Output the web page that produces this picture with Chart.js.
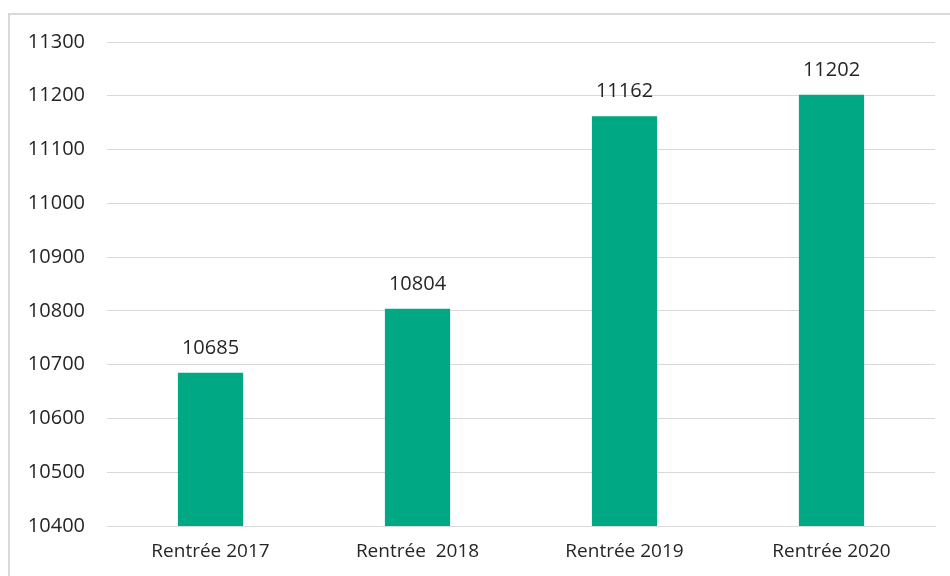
<!DOCTYPE html>
<html>
<head>
<meta charset="utf-8">
<script src="https://cdn.jsdelivr.net/npm/chart.js@4/dist/chart.umd.min.js"></script>
<style>
  html, body { margin: 0; padding: 0; background: #fff; }
  #wrap { position: relative; width: 950px; height: 576px; overflow: hidden; }
  #frame { position: absolute; left: 8px; top: 13px; width: 1000px; height: 700px; border-left: 2px solid #d9d9d9; border-top: 2px solid #d9d9d9; box-sizing: border-box; }
  canvas { position: absolute; left: 0; top: 0; }
</style>
</head>
<body>
<div id="wrap">
  <div id="frame"></div>
  <canvas id="c" width="950" height="576"></canvas>
</div>
<script>
const categories = ["Rentrée 2017", "Rentrée  2018", "Rentrée 2019", "Rentrée 2020"];
const values = [10685, 10804, 11162, 11202];
const yTicks = [10400, 10500, 10600, 10700, 10800, 10900, 11000, 11100, 11200, 11300];

const FONT = "'Open Sans', 'Liberation Sans', sans-serif";

const valueLabels = {
  id: 'valueLabels',
  afterDatasetsDraw(chart) {
    const ctx = chart.ctx;
    const meta = chart.getDatasetMeta(0);
    ctx.save();
    ctx.font = "20px " + FONT;
    ctx.fillStyle = '#262626';
    ctx.textAlign = 'center';
    ctx.textBaseline = 'alphabetic';
    meta.data.forEach((bar, i) => {
      ctx.fillText(String(values[i]), bar.x, bar.y - 19);
    });
    ctx.restore();
  }
};

new Chart(document.getElementById('c'), {
  type: 'bar',
  data: {
    labels: categories,
    datasets: [{
      data: values,
      backgroundColor: '#00a884',
      borderWidth: 0,
      categoryPercentage: 1,
      barPercentage: 0.315
    }]
  },
  options: {
    responsive: false,
    animation: false,
    layout: { padding: { left: 0, right: 15, top: 42, bottom: 0 } },
    plugins: { legend: { display: false }, tooltip: { enabled: false } },
    scales: {
      x: {
        grid: { display: false, drawTicks: false },
        border: { display: true, color: '#d9d9d9', width: 1 },
        ticks: { color: '#262626', font: { family: FONT, size: 19 }, padding: 14, maxRotation: 0, autoSkip: false },
        afterFit(scale) { scale.height = 50; }
      },
      y: {
        min: 10400,
        max: 11300,
        afterBuildTicks(scale) { scale.ticks = yTicks.map(v => ({ value: v })); },
        grid: { color: '#d9d9d9', lineWidth: 1, drawTicks: false },
        border: { display: false },
        ticks: { color: '#262626', font: { family: FONT, size: 20 }, padding: 22, callback: v => String(v) },
        afterFit(scale) { scale.width = 107; }
      }
    }
  },
  plugins: [valueLabels]
});
</script>
</body>
</html>
